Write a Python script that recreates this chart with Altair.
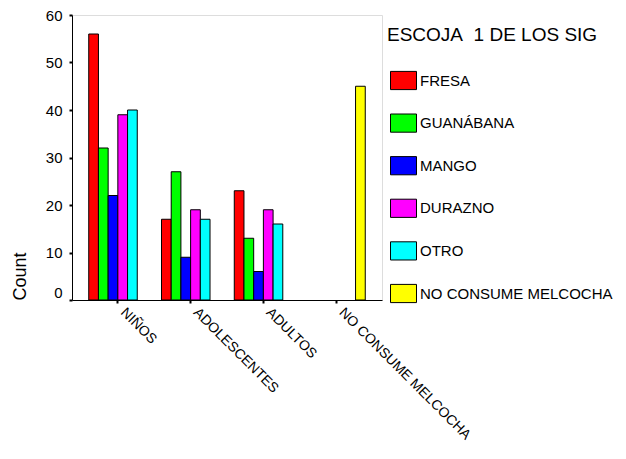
import altair as alt
import pandas as pd

groups = ["NIÑOS", "ADOLESCENTES", "ADULTOS", "NO CONSUME MELCOCHA"]
flavors = ["FRESA", "GUANÁBANA", "MANGO", "DURAZNO", "OTRO", "NO CONSUME MELCOCHA"]
colors = ["#FF0000", "#00FF00", "#0000FF", "#FF00FF", "#00FFFF", "#FFFF00"]

ninos = [56, 32, 22, 39, 40]
adolescentes = [17, 27, 9, 19, 17]
adultos = [23, 13, 6, 19, 16]
no_consume = [45]

rows = []
for f, v in zip(flavors[:5], ninos):
    rows.append({"grupo": groups[0], "sabor": f, "count": v})
for f, v in zip(flavors[:5], adolescentes):
    rows.append({"grupo": groups[1], "sabor": f, "count": v})
for f, v in zip(flavors[:5], adultos):
    rows.append({"grupo": groups[2], "sabor": f, "count": v})
rows.append({"grupo": groups[3], "sabor": flavors[5], "count": no_consume[0]})
df = pd.DataFrame(rows)

FONT = "Liberation Sans"

chart = alt.Chart(df).mark_bar(stroke="black", strokeWidth=1).encode(
    x=alt.X("grupo:N", sort=groups,
            scale=alt.Scale(paddingInner=0.2, paddingOuter=0.23),
            axis=alt.Axis(title=None, labelAngle=45, labelAlign="left",
                          labelBaseline="top", labelOffset=10, labelPadding=2,
                          labelFontSize=14, labelFont=FONT, labelColor="black",
                          labelLimit=0,
                          tickSize=3, tickWidth=2, tickColor="black",
                          domainColor="black", domainWidth=1, grid=False)),
    xOffset=alt.XOffset("sabor:N", sort=flavors,
                        scale=alt.Scale(domain=flavors, paddingInner=0, paddingOuter=0)),
    y=alt.Y("count:Q",
            scale=alt.Scale(domain=[0, 60], nice=False),
            axis=alt.Axis(title="Count", values=[0, 10, 20, 30, 40, 50, 60],
                          titleAnchor="start", titleFontSize=18, titleFont=FONT,
                          titleFontWeight="normal", titleColor="black", titlePadding=16,
                          labelFontSize=15, labelFont=FONT, labelColor="black",
                          labelPadding=7,
                          labelOffset={"condition": {"test": "datum.value == 0", "value": -8}, "value": 0},
                          tickSize=3, tickWidth=2, tickColor="black",
                          domainColor="black", domainWidth=1, grid=False)),
    color=alt.Color("sabor:N", sort=flavors,
                    scale=alt.Scale(domain=flavors, range=colors),
                    legend=alt.Legend(title="ESCOJA\u00a0 1 DE LOS SIG", orient="none",
                                      legendX=315, legendY=11, padding=0,
                                      titleFontSize=19, titleFont=FONT,
                                      titleFontWeight="normal", titleColor="black",
                                      titleLimit=0, labelLimit=0,
                                      titlePadding=22, labelFontSize=15, labelFont=FONT,
                                      labelColor="black", labelOffset=3,
                                      symbolType="M-1,-0.7H1V0.7H-1Z", symbolSize=676,
                                      symbolStrokeColor="black", symbolStrokeWidth=1,
                                      symbolOffset=3, rowPadding=17.6, symbolOpacity=1)),
).properties(
    width=310, height=285,
    autosize=alt.AutoSizeParams(type="none"),
    padding={"left": 64, "top": 7, "right": 236, "bottom": 151},
).configure_view(stroke="black", strokeWidth=1).configure(background="white")

chart.save("out.html", embed_options={"renderer": "svg", "actions": False})
